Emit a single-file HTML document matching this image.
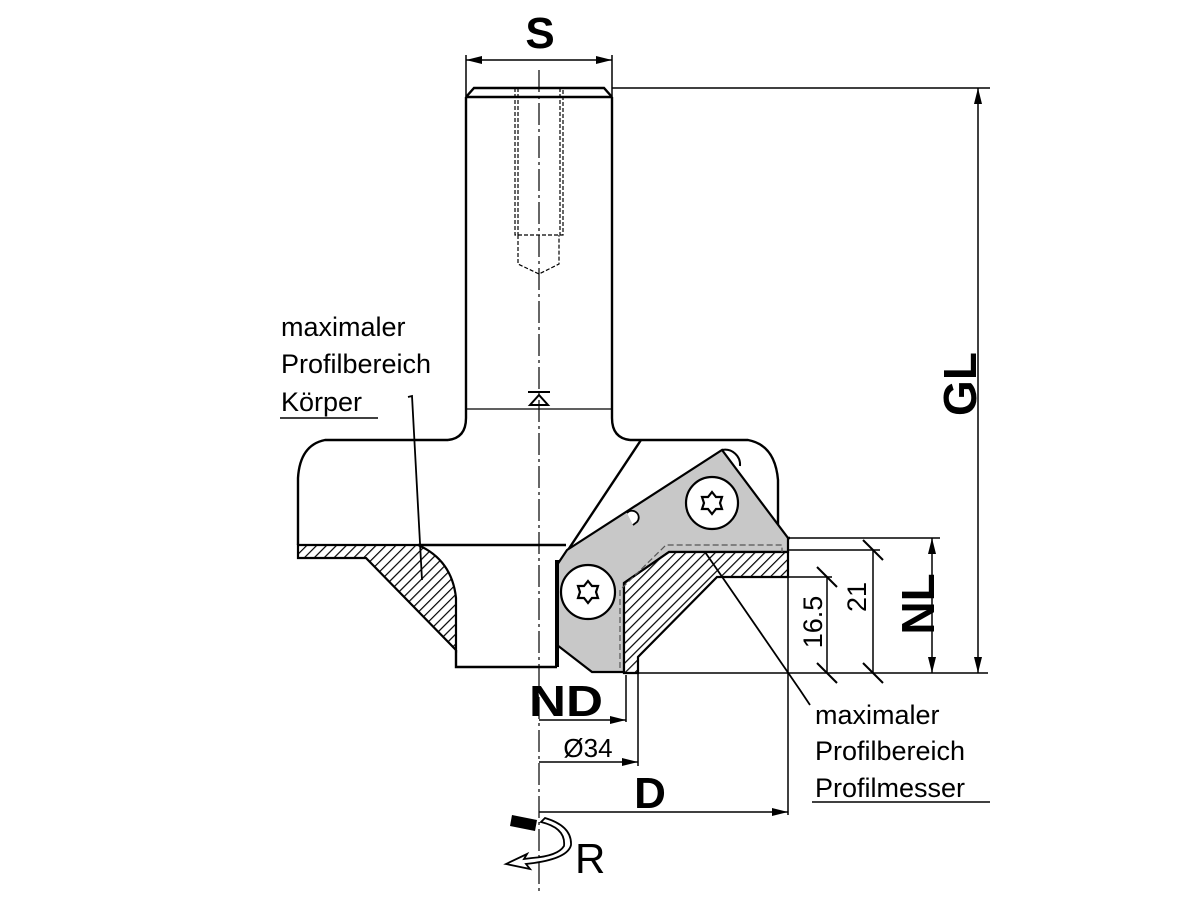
<!DOCTYPE html>
<html><head><meta charset="utf-8"><style>
html,body{margin:0;padding:0;background:#fff}
svg{display:block}
text{font-family:"Liberation Sans",sans-serif;fill:#000}
</style></head><body>
<svg width="1200" height="900" viewBox="0 0 1200 900" xmlns="http://www.w3.org/2000/svg">
<defs>
<pattern id="h" patternUnits="userSpaceOnUse" width="7" height="7" patternTransform="rotate(45)">
<rect width="7" height="7" fill="#fff"/><line x1="0" y1="0" x2="0" y2="7" stroke="#000" stroke-width="2.4"/>
</pattern>
<marker id="a" markerWidth="16" markerHeight="8" refX="16" refY="4" orient="auto" markerUnits="userSpaceOnUse"><path d="M0,0 L16,4 L0,8 Z" fill="#000"/></marker>
</defs>
<g fill="none" stroke="#000" stroke-width="2.4">
<path d="M466,97 L466,418 Q466,438 448,440"/>
<path d="M612,97 L612,418 Q612,438 630,440"/>
<path d="M466,97 L612,97 M466,97 L474,88 L604,88 L612,97"/>
<line x1="466" y1="409" x2="612" y2="409" stroke-width="1.2"/>
<path d="M448,440 L325,440 Q300,445 298,478 L298,545"/>
<path d="M630,440 L748,440 Q775,445 778,480 L778,538 L790,538"/>
<line x1="418" y1="545" x2="566" y2="545"/>
<line x1="641" y1="440" x2="566" y2="553"/>
<path d="M456,650 L456,667 L557,667"/>
</g>
<path d="M298,545 L418,545 Q452,560 456,598 L456,650 L366,558 L298,558 Z" fill="url(#h)" stroke="#000" stroke-width="2.2"/>
<path d="M557,565 L567,550 L722,450 L788,538 L788,552 L669,552 L624,583 L624,672 L592,672 L557,645 Z" fill="#c8c8c8" stroke="#000" stroke-width="2.2"/>
<path d="M722,450 A15,15 0 0 1 740,466" fill="none" stroke="#000" stroke-width="2"/>
<circle cx="712" cy="503" r="26" fill="#fff" stroke="#000" stroke-width="2.2"/>
<path d="M712,492 L716,497 L722,497 L720,503 L722,509 L716,509 L712,514 L708,509 L702,509 L704,503 L702,497 L708,497 Z" fill="none" stroke="#000" stroke-width="2.2"/>
<circle cx="588" cy="592" r="27" fill="#fff" stroke="#000" stroke-width="2.2"/>
<path d="M588,581 L592,586 L598,586 L596,592 L598,598 L592,598 L588,603 L584,598 L578,598 L580,592 L578,586 L584,586 Z" fill="none" stroke="#000" stroke-width="2.2"/>
<path d="M627,513 A5,5 0 0 1 637,522 L633,525" fill="#fff" stroke="#000" stroke-width="1.8"/>
<line x1="557" y1="560" x2="557" y2="667" stroke="#000" stroke-width="4"/>
<path d="M624,583 L669,552 L788,552 L788,577 L717,577 L638,657 L638,673 L624,673 Z" fill="url(#h)" stroke="#000" stroke-width="2.2"/>
<path d="M620,668 L620,590 L666,545 L782,545 L782,552" fill="none" stroke="#555" stroke-width="1.2" stroke-dasharray="6 3"/>
<g stroke="#000" stroke-width="1.2" fill="none">
<line x1="539" y1="70" x2="539" y2="895" stroke-dasharray="22 4 3 4"/>
<g stroke-dasharray="4 2">
<path d="M515,88 L515,235 L563,235 L563,88 M518,88 L518,235 M560,88 L560,235"/>
<path d="M518,235 L518,264 L539,274 L559,264 L559,235"/>
</g>
<path d="M528,392 L550,392 M530,405 L539,395 L548,405 Z" stroke-width="2"/>
</g>
<g stroke="#000" stroke-width="1.5" fill="none">
<line x1="466" y1="55" x2="466" y2="97"/><line x1="612" y1="55" x2="612" y2="97"/>
<line x1="539" y1="60" x2="612" y2="60" marker-end="url(#a)"/>
<line x1="539" y1="60" x2="466" y2="60" marker-end="url(#a)"/>
<line x1="612" y1="88" x2="990" y2="88"/>
<line x1="978" y1="400" x2="978" y2="88" marker-end="url(#a)"/>
<line x1="978" y1="400" x2="978" y2="673" marker-end="url(#a)"/>
<line x1="790" y1="538" x2="940" y2="538"/>
<line x1="788" y1="550" x2="880" y2="550"/>
<line x1="788" y1="577" x2="832" y2="577"/>
<line x1="638" y1="673" x2="988" y2="673"/>
<line x1="932" y1="600" x2="932" y2="538" marker-end="url(#a)"/>
<line x1="932" y1="600" x2="932" y2="673" marker-end="url(#a)"/>
<line x1="873" y1="550" x2="873" y2="673"/><line x1="827" y1="577" x2="827" y2="673"/>
<g stroke-width="2"><line x1="863" y1="540" x2="883" y2="560"/><line x1="863" y1="663" x2="883" y2="683"/>
<line x1="817" y1="567" x2="837" y2="587"/><line x1="817" y1="663" x2="837" y2="683"/></g>
<line x1="788" y1="577" x2="788" y2="815"/>
<line x1="626" y1="675" x2="626" y2="722"/><line x1="638" y1="673" x2="638" y2="766"/>
<line x1="539" y1="720" x2="626" y2="720" marker-end="url(#a)"/>
<line x1="539" y1="762" x2="638" y2="762" marker-end="url(#a)"/>
<line x1="539" y1="812" x2="788" y2="812" marker-end="url(#a)"/>
<path d="M408,397 L412,396 L422,580" stroke-width="1.8"/>
<line x1="280" y1="418" x2="378" y2="418"/>
<path d="M705,552 L800,690 L810,705" stroke-width="1.8"/>
<line x1="812" y1="802" x2="990" y2="802"/>
</g>
<path d="M512,815 L537,820 L535,831 L510,826 Z" fill="#000"/>
<path d="M541,822 Q566,828 564,846 Q558,856 532,858 L524,859 L527,854 L506,864 L530,869 L526,864 L534,863 Q568,858 571,845 Q572,826 545,818 Z" fill="#fff" stroke="#000" stroke-width="1.8"/>
<text x="540" y="48" font-size="44" font-weight="bold" text-anchor="middle">S</text>
<text transform="translate(976,384) rotate(-90)" font-size="46" font-weight="bold" text-anchor="middle">GL</text>
<text transform="translate(934,604) rotate(-90)" font-size="46" font-weight="bold" text-anchor="middle">NL</text>
<text transform="translate(866,597) rotate(-90)" font-size="27" text-anchor="middle">21</text>
<text transform="translate(822,622) rotate(-90)" font-size="27" text-anchor="middle">16.5</text>
<text x="566" y="716" font-size="44" font-weight="bold" text-anchor="middle" textLength="74" lengthAdjust="spacingAndGlyphs">ND</text>
<text x="588" y="757" font-size="26" text-anchor="middle">Ø34</text>
<text x="650" y="808" font-size="44" font-weight="bold" text-anchor="middle">D</text>
<text x="575" y="873" font-size="42">R</text>
<text x="281" y="336" font-size="27">maximaler</text>
<text x="281" y="373" font-size="27">Profilbereich</text>
<text x="281" y="411" font-size="27">Körper</text>
<text x="815" y="724" font-size="27">maximaler</text>
<text x="815" y="760" font-size="27">Profilbereich</text>
<text x="815" y="797" font-size="27">Profilmesser</text>
</svg>
</body></html>
